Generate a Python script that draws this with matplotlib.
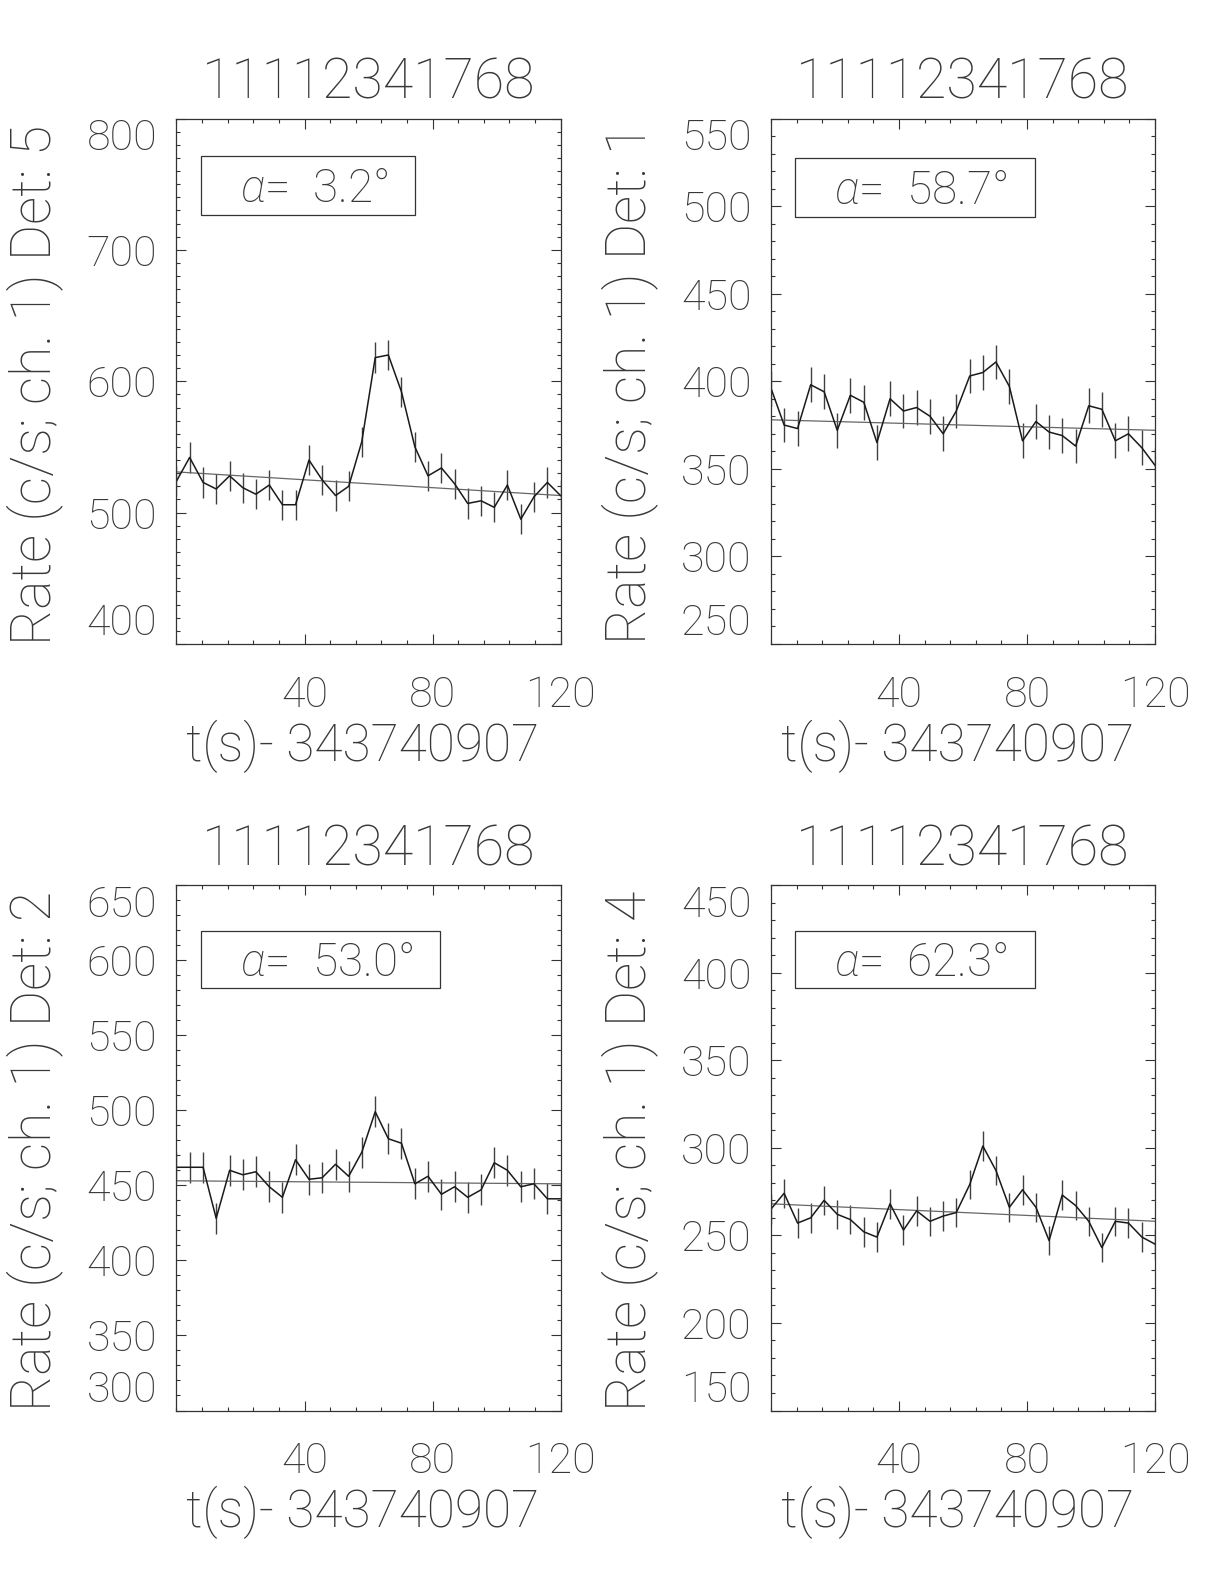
import numpy as np
import matplotlib.pyplot as plt
from matplotlib.ticker import MultipleLocator
from matplotlib.patches import Rectangle

plt.rcParams['font.family'] = ['Roboto', 'DejaVu Sans']
plt.rcParams['font.weight'] = 100
plt.rcParams['axes.labelweight'] = 100
plt.rcParams['mathtext.fontset'] = 'custom'
plt.rcParams['mathtext.it'] = 'Roboto:italic:light'
plt.rcParams['mathtext.rm'] = 'Roboto:light'

# time bins (s after 343740907)
times = [0.0, 4.1, 8.3, 12.4, 16.6, 20.7, 24.8, 29.0, 33.1, 37.2,
         41.4, 45.5, 49.7, 53.8, 57.9, 62.1, 66.2, 70.3, 74.5, 78.6,
         82.8, 86.9, 91.0, 95.2, 99.3, 103.4, 107.6, 111.7, 115.9, 120.0]

rate_det5 = [524, 542, 523, 518, 528, 519, 514, 521, 506, 506, 540, 525, 513, 520, 554,
             618, 620, 592, 550, 528, 534, 522, 507, 509, 504, 521, 495, 512, 523, 513]
rate_det1 = [396, 375, 373, 398, 394, 372, 392, 388, 365, 390, 383, 385, 380, 370, 383,
             403, 405, 411, 397, 366, 377, 371, 369, 363, 386, 384, 366, 370, 362, 352]
rate_det2 = [462, 462, 462, 428, 460, 457, 459, 449, 442, 467, 454, 455, 464, 456, 472,
             499, 481, 478, 451, 456, 444, 449, 442, 447, 465, 460, 449, 451, 441, 441]
rate_det4 = [265, 274, 257, 260, 270, 262, 259, 252, 249, 268, 253, 264, 258, 261, 263,
             279, 301, 287, 266, 276, 266, 247, 273, 267, 258, 243, 258, 257, 249, 245]

errors = [11.5, 9.9, 10.4, 8.4]
detectors = [5, 1, 2, 4]
angles = [3.2, 58.7, 53.0, 62.3]
fit_intercept = [531, 378, 453, 268]
fit_slope = [-0.15, -0.05, -0.017, -0.083]
ylims = [(400, 800), (250, 550), (300, 650), (150, 450)]
ysteps = [100, 50, 50, 50]
rates = [rate_det5, rate_det1, rate_det2, rate_det4]

W, H = 1224., 1584.
fig = plt.figure(figsize=(W / 100, H / 100), dpi=100)

# axes corners in pixels (left, top)
corners = [(176.5, 118.5), (771, 118.5), (176.5, 885), (771, 885)]
aw, ah = 384., 525.5
box_top = [0.928, 0.924, 0.912, 0.912]
box_bot = [0.816, 0.812, 0.804, 0.804]

txtcol = '#383838'
labels = []
for k in range(4):
    l, t = corners[k]
    ax = fig.add_axes([l / W, (H - t - ah) / H, aw / W, ah / H])
    ax.errorbar(times, rates[k], yerr=errors[k], color='0.1', lw=1.1,
                elinewidth=1.0, ecolor='0.25', capsize=0)
    tl = np.array([0., 120.])
    ax.plot(tl, fit_intercept[k] + fit_slope[k] * tl, color='0.4', lw=0.9)

    lo, hi = ylims[k]
    ax.set_xlim(0, 120)
    ax.set_ylim(lo, hi)
    ax.set_xticks([40, 80, 120])
    ax.xaxis.set_minor_locator(MultipleLocator(8))
    ax.set_yticks(np.arange(lo, hi + 1, ysteps[k]))
    ax.yaxis.set_minor_locator(MultipleLocator(10))
    ax.tick_params(which='both', direction='in', top=True, right=True,
                   labelsize=31, color='0.2', labelcolor=txtcol, width=0.8)
    ax.tick_params(which='major', length=7.5)
    ax.tick_params(which='minor', length=3.2)
    ax.tick_params(axis='x', pad=22)
    ax.tick_params(axis='y', pad=14)
    for s in ax.spines.values():
        s.set_linewidth(0.9)
        s.set_color('0.2')
    yl = ax.get_yticklabels()
    yl[0].set_verticalalignment('bottom')
    yl[-1].set_verticalalignment('top')

    ax.text(0.5, 1 + 20 / ah, '11112341768', transform=ax.transAxes,
            ha='center', va='baseline', fontsize=40, color=txtcol)
    ax.set_xlabel('t(s)- 343740907', fontsize=37, color=txtcol)
    ax.xaxis.label.set_verticalalignment('baseline')
    ax.xaxis.set_label_coords(0.485, -(761 - 644) / ah)
    ax.set_ylabel('Rate (c/s; ch. 1) Det: %d' % detectors[k], fontsize=40, color=txtcol)
    ax.yaxis.label.set_verticalalignment('baseline')
    ax.yaxis.set_label_coords(-(126) / aw, 0.494)

    yc = 0.5 * (box_top[k] + box_bot[k])
    x0 = 0.063
    txt = ax.text(x0 + 39 / aw, yc - 16 / ah, r'$\alpha$=  %.1f°' % angles[k],
                  transform=ax.transAxes, ha='left', va='baseline',
                  fontsize=33, color=txtcol)
    labels.append((ax, txt, x0, k))

fig.canvas.draw()
r = fig.canvas.get_renderer()
for ax, txt, x0, k in labels:
    bb = txt.get_window_extent(renderer=r)
    bb_ax = bb.transformed(ax.transAxes.inverted())
    x1 = bb_ax.x1 + 27 / aw
    ax.add_patch(Rectangle((x0, box_bot[k]), x1 - x0, box_top[k] - box_bot[k],
                           transform=ax.transAxes, fill=False, lw=0.9,
                           edgecolor='0.2'))

fig.savefig('out.png', dpi=100)
